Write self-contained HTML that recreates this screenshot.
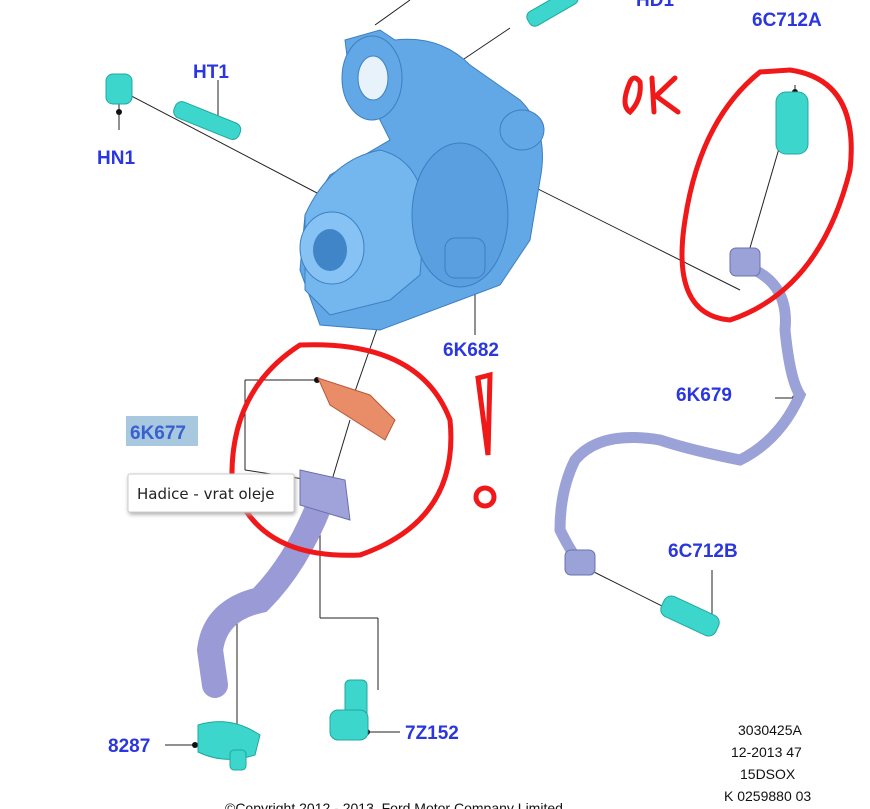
<!DOCTYPE html>
<html><head><meta charset="utf-8"><style>
body{margin:0;background:#fff;width:870px;height:809px;overflow:hidden;font-family:"Liberation Sans",sans-serif}
svg{position:absolute;left:0;top:0}
.l{fill:#2a36e0;font-weight:bold;font-size:19px;font-family:"Liberation Sans",sans-serif}
.s{fill:#111;font-size:14px;font-family:"Liberation Sans",sans-serif}
</style></head><body>
<svg width="870" height="809" viewBox="0 0 870 809">
<g stroke="#222" stroke-width="1" fill="none">
<line x1="120" y1="90" x2="340" y2="205"/>
<line x1="218" y1="80" x2="218" y2="125"/>
<line x1="119" y1="95" x2="119" y2="130"/>
<line x1="410" y1="0" x2="375" y2="25"/>
<line x1="510" y1="28" x2="455" y2="65"/>
<line x1="450" y1="145" x2="740" y2="290"/>
<line x1="795" y1="85" x2="795" y2="95"/>
<line x1="780" y1="145" x2="745" y2="265"/>
<line x1="475" y1="285" x2="475" y2="335"/>
<line x1="380" y1="320" x2="352" y2="400"/>
<line x1="245" y1="380" x2="320" y2="380"/>
<line x1="245" y1="380" x2="245" y2="470"/>
<line x1="245" y1="470" x2="310" y2="480"/>
<line x1="350" y1="420" x2="320" y2="520"/>
<line x1="320" y1="520" x2="320" y2="618"/>
<line x1="320" y1="618" x2="378" y2="618"/>
<line x1="378" y1="618" x2="378" y2="690"/>
<line x1="237" y1="605" x2="237" y2="740"/>
<line x1="165" y1="745" x2="195" y2="745"/>
<line x1="367" y1="732" x2="400" y2="732"/>
<line x1="775" y1="398" x2="795" y2="398"/>
<line x1="712" y1="570" x2="712" y2="620"/>
<line x1="590" y1="570" x2="690" y2="620"/>
</g>
<g fill="#111"><circle cx="119" cy="112" r="3"/><circle cx="218" cy="125" r="3"/><circle cx="795" cy="92" r="3"/><circle cx="475" cy="285" r="3"/><circle cx="317" cy="380" r="3"/><circle cx="195" cy="745" r="3"/><circle cx="367" cy="732" r="3"/><circle cx="795" cy="398" r="3"/><circle cx="712" cy="620" r="3"/></g>
<!-- turbo -->
<g fill="#62a8e6" stroke="#3d7fc0" stroke-width="1">
<path d="M345 40 L380 30 L395 40 Q440 35 470 65 L520 100 Q550 130 540 180 L530 240 L500 285 L460 300 L380 330 L320 325 L300 270 L305 215 L330 175 L390 140 L375 110 L350 80 Z"/>
<path d="M305 215 Q330 160 380 150 Q420 160 425 210 L420 275 L390 300 L330 315 L305 290 Z" fill="#74b6ee"/>
<ellipse cx="372" cy="78" rx="30" ry="42"/>
<ellipse cx="332" cy="248" rx="32" ry="36" fill="#86c2f4"/>
<ellipse cx="460" cy="215" rx="48" ry="72" fill="#5a9fe0"/>
<ellipse cx="522" cy="130" rx="22" ry="20"/>
<rect x="445" y="238" width="40" height="40" rx="10" fill="#5a9fe0"/>
</g>
<ellipse cx="373" cy="78" rx="15" ry="22" fill="#e8f2fb" stroke="#3d7fc0"/>
<ellipse cx="330" cy="250" rx="17" ry="21" fill="#3f85c8"/>
<!-- bolts -->
<g fill="#3dd6cc" stroke="#1fa8a0">
<rect x="106" y="74" width="26" height="30" rx="7"/>
<rect x="172" y="112" width="70" height="17" rx="7" transform="rotate(22 207 121)"/>
<rect x="525" y="0" width="55" height="16" rx="6" transform="rotate(-30 552 8)"/>
<rect x="776" y="92" width="32" height="62" rx="10"/>
<rect x="660" y="605" width="60" height="22" rx="8" transform="rotate(25 690 616)"/>
<rect x="345" y="680" width="22" height="45" rx="5"/>
<rect x="330" y="710" width="38" height="30" rx="8"/>
<path d="M198 725 Q230 715 260 735 L255 755 Q225 765 198 752 Z"/>
<rect x="230" y="750" width="16" height="20" rx="4"/>
</g>
<!-- pipes -->
<path d="M742 265 Q790 280 785 330 Q790 380 800 395 Q780 440 740 460 Q690 450 660 440 Q600 430 575 460 Q560 490 560 530 Q580 570 590 570" fill="none" stroke="#9aa2d8" stroke-width="11" stroke-linecap="round"/>
<rect x="730" y="248" width="30" height="28" rx="6" fill="#9aa2d8" stroke="#6b72b0"/>
<rect x="565" y="550" width="30" height="25" rx="6" fill="#9aa2d8" stroke="#6b72b0"/>
<path d="M325 490 Q300 560 260 600 Q215 610 210 650 L215 685" fill="none" stroke="#9a9ad6" stroke-width="26" stroke-linecap="round"/>
<path d="M300 470 L345 480 L350 520 L300 505 Z" fill="#a0a2da" stroke="#6b6fb0"/>
<path d="M318 378 L370 395 L395 420 L385 440 L330 405 Z" fill="#e98c68" stroke="#b85a3a"/>
<!-- red circles -->
<g fill="none" stroke="#f01818" stroke-width="5" stroke-linecap="round">
<path d="M790 70 Q860 80 850 170 Q820 290 730 320 Q670 315 685 220 Q700 120 760 72 Z"/>
<path d="M300 345 Q420 340 450 420 Q460 520 360 555 Q255 560 232 480 Q230 390 300 345 Z"/>
<path d="M630 82 Q620 105 630 112 Q642 100 640 82 Q634 74 630 82 M652 78 L654 112 M675 78 L656 96 L678 112"/>
<path d="M478 378 L490 375 L488 455 Z"/>
<circle cx="485" cy="497" r="9"/>
</g>
<text x="636" y="6" class="l">HD1</text>
<text x="193" y="78" class="l">HT1</text>
<text x="97" y="164" class="l">HN1</text>
<text x="752" y="26" class="l">6C712A</text>
<text x="443" y="356" class="l">6K682</text>
<rect x="126" y="416" width="72" height="30" fill="#a8c8e0"/>
<text x="130" y="439" class="l" style="fill:#3a60d0">6K677</text>
<text x="676" y="401" class="l">6K679</text>
<text x="668" y="557" class="l">6C712B</text>
<text x="108" y="752" class="l">8287</text>
<text x="405" y="739" class="l">7Z152</text>
<rect x="128" y="474" width="166" height="38" fill="#fff" stroke="#ccc" rx="2" style="filter:drop-shadow(1px 2px 2px #aaa)"/>
<text x="137" y="499" font-size="15" fill="#222" font-family="DejaVu Sans, sans-serif">Hadice - vrat oleje</text>
<text x="738" y="735" class="s">3030425A</text>
<text x="731" y="757" class="s">12-2013 47</text>
<text x="740" y="779" class="s">15DSOX</text>
<text x="724" y="801" class="s">K 0259880 03</text>
<text x="225" y="813" class="s">©Copyright 2012 - 2013, Ford Motor Company Limited</text>
</svg>
</body></html>
